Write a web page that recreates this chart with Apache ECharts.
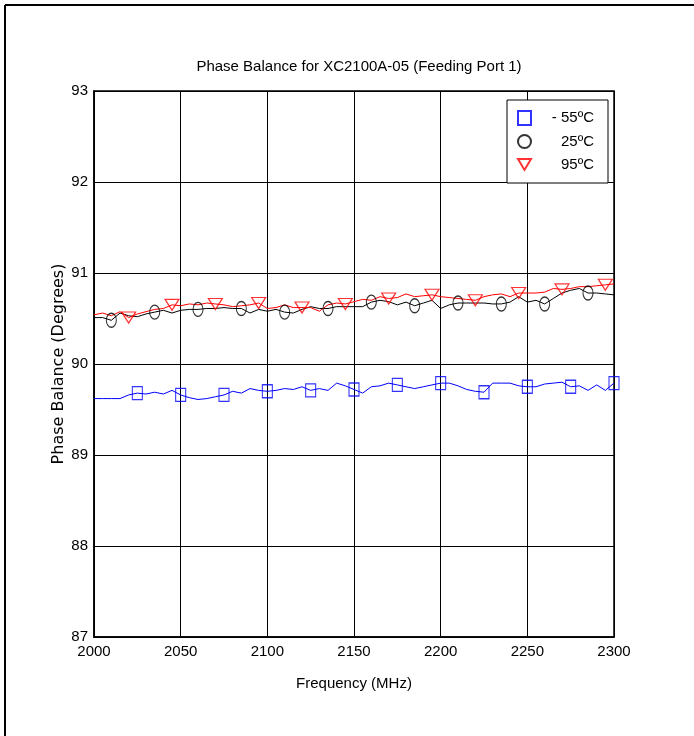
<!DOCTYPE html>
<html>
<head>
<meta charset="utf-8">
<script src="https://cdn.jsdelivr.net/npm/echarts@6/dist/echarts.min.js"></script>
<style>
html,body{margin:0;padding:0;background:#fff;}
#chart{width:694px;height:736px;}
</style>
</head>
<body>
<div id="chart"></div>
<script>
// Frequencies every 5 MHz from 2000 to 2300
const freqs = [2000,2005,2010,2015,2020,2025,2030,2035,2040,2045,2050,2055,2060,2065,2070,2075,2080,2085,2090,2095,
2100,2105,2110,2115,2120,2125,2130,2135,2140,2145,2150,2155,2160,2165,2170,2175,2180,2185,2190,2195,
2200,2205,2210,2215,2220,2225,2230,2235,2240,2245,2250,2255,2260,2265,2270,2275,2280,2285,2290,2295,2300];

const minus55 = [89.62,89.62,89.62,89.62,89.66,89.68,89.67,89.69,89.67,89.71,89.66,89.63,89.61,89.62,89.64,89.66,89.70,89.68,89.73,89.71,
89.70,89.71,89.73,89.72,89.75,89.71,89.73,89.71,89.79,89.76,89.72,89.68,89.75,89.76,89.79,89.77,89.75,89.73,89.75,89.77,
89.79,89.79,89.76,89.72,89.70,89.69,89.79,89.79,89.79,89.76,89.75,89.75,89.78,89.79,89.80,89.75,89.76,89.71,89.77,89.71,89.79];

const plus25 = [90.51,90.51,90.48,90.56,90.53,90.52,90.55,90.57,90.59,90.56,90.59,90.60,90.60,90.61,90.61,90.62,90.61,90.61,90.56,90.60,
90.58,90.60,90.57,90.56,90.60,90.63,90.61,90.61,90.63,90.63,90.63,90.63,90.68,90.70,90.685,90.65,90.68,90.64,90.67,90.70,
90.61,90.65,90.67,90.67,90.67,90.67,90.66,90.66,90.68,90.74,90.68,90.70,90.66,90.72,90.78,90.81,90.83,90.78,90.78,90.77,90.76];

const plus95 = [90.54,90.56,90.53,90.575,90.51,90.55,90.575,90.60,90.61,90.65,90.64,90.66,90.65,90.67,90.66,90.65,90.63,90.64,90.65,90.67,
90.61,90.62,90.65,90.62,90.62,90.62,90.58,90.65,90.67,90.66,90.685,90.71,90.70,90.74,90.72,90.73,90.77,90.74,90.75,90.76,
90.74,90.73,90.72,90.71,90.70,90.74,90.76,90.77,90.74,90.78,90.78,90.78,90.79,90.83,90.82,90.83,90.85,90.85,90.86,90.87,90.88];

const seriesNames = ['- 55ºC', '25ºC', '95ºC'];
const markerStart = [2025, 2010, 2020]; // first marked frequency per series
const markerStep = 25;

const yTicks = [87, 88, 89, 90, 91, 92, 93];
const xTicks = [2000, 2050, 2100, 2150, 2200, 2250, 2300];

const allSeries = [minus55, plus25, plus95];
const colors = ['#0000ff', '#000000', '#ff0000'];
const symbols = ['rect', 'circle', 'path://M0,0 L12,0 L6,10 Z'];
const symbolSizes = [[10, 13], [10, 14], [14, 11]];

function pairs(vals) { return freqs.map((f, i) => [f, vals[i]]); }
function markerPairs(vals, start) {
  return freqs.map((f, i) => [f, vals[i]]).filter(p => p[0] >= start && (p[0] - start) % markerStep === 0);
}

const series = [];
allSeries.forEach((vals, k) => {
  series.push({
    type: 'line', name: seriesNames[k] + '_line', data: pairs(vals),
    showSymbol: false, symbol: 'none',
    lineStyle: { color: colors[k], width: 1 }, silent: true, z: 3
  });
});
allSeries.forEach((vals, k) => {
  series.push({
    type: 'scatter', name: seriesNames[k], data: markerPairs(vals, markerStart[k]),
    symbol: symbols[k], symbolSize: symbolSizes[k],
    itemStyle: { color: 'rgba(0,0,0,0)', borderColor: colors[k], borderWidth: 1.2 },
    z: 4
  });
});

const chart = echarts.init(document.getElementById('chart'), null, { renderer: 'canvas' });
const font = 'Liberation Sans';
chart.setOption({
  animation: false,
  backgroundColor: '#ffffff',
  title: {
    text: 'Phase Balance for XC2100A-05 (Feeding Port 1)',
    left: 354, top: 54, textAlign: 'center',
    textStyle: { fontFamily: font, fontSize: 15, fontWeight: 'normal', color: '#000' }
  },
  grid: {
    left: 94, top: 91, right: 80, bottom: 99,
    show: true, borderColor: '#000', borderWidth: 1.5, backgroundColor: 'transparent'
  },
  legend: {
    data: seriesNames,
    orient: 'vertical',
    left: 507, top: 100,
    padding: [10, 14, 11, 10],
    itemGap: 8,
    itemWidth: 13, itemHeight: 14,
    backgroundColor: '#fff',
    borderColor: '#000', borderWidth: 1,
    formatter: n => '{t|' + n + '}',
    textStyle: {
      rich: { t: { width: 58, align: 'right', fontFamily: font, fontSize: 15, color: '#000' } }
    },
    selectedMode: false
  },
  xAxis: {
    type: 'value', min: xTicks[0], max: xTicks[xTicks.length - 1], interval: 50,
    name: 'Frequency (MHz)', nameLocation: 'middle', nameGap: 39, nameMoveOverlap: false,
    nameTextStyle: { fontFamily: font, fontSize: 15, color: '#000' },
    axisLine: { show: true, lineStyle: { color: '#000', width: 1.5 } },
    axisTick: { show: false },
    axisLabel: { fontFamily: font, fontSize: 15, color: '#000', margin: 7, formatter: v => String(v) },
    splitLine: { show: true, lineStyle: { color: '#000', width: 1 } }
  },
  yAxis: {
    type: 'value', min: yTicks[0], max: yTicks[yTicks.length - 1], interval: 1,
    name: 'Phase Balance (Degrees)', nameLocation: 'middle', nameGap: 27, nameMoveOverlap: false,
    nameTextStyle: { fontFamily: 'DejaVu Sans', fontSize: 16, color: '#000' },
    axisLine: { show: true, lineStyle: { color: '#000', width: 1.5 } },
    axisTick: { show: false },
    axisLabel: { fontFamily: font, fontSize: 15, color: '#000', margin: 6, formatter: v => String(v) },
    splitLine: { show: true, lineStyle: { color: '#000', width: 1 } }
  },
  graphic: [
    { type: 'line', shape: { x1: 5, y1: 5, x2: 694, y2: 5 }, style: { stroke: '#000', lineWidth: 2 } },
    { type: 'line', shape: { x1: 5, y1: 5, x2: 5, y2: 736 }, style: { stroke: '#000', lineWidth: 2 } }
  ],
  series: series
});
</script>
</body>
</html>
